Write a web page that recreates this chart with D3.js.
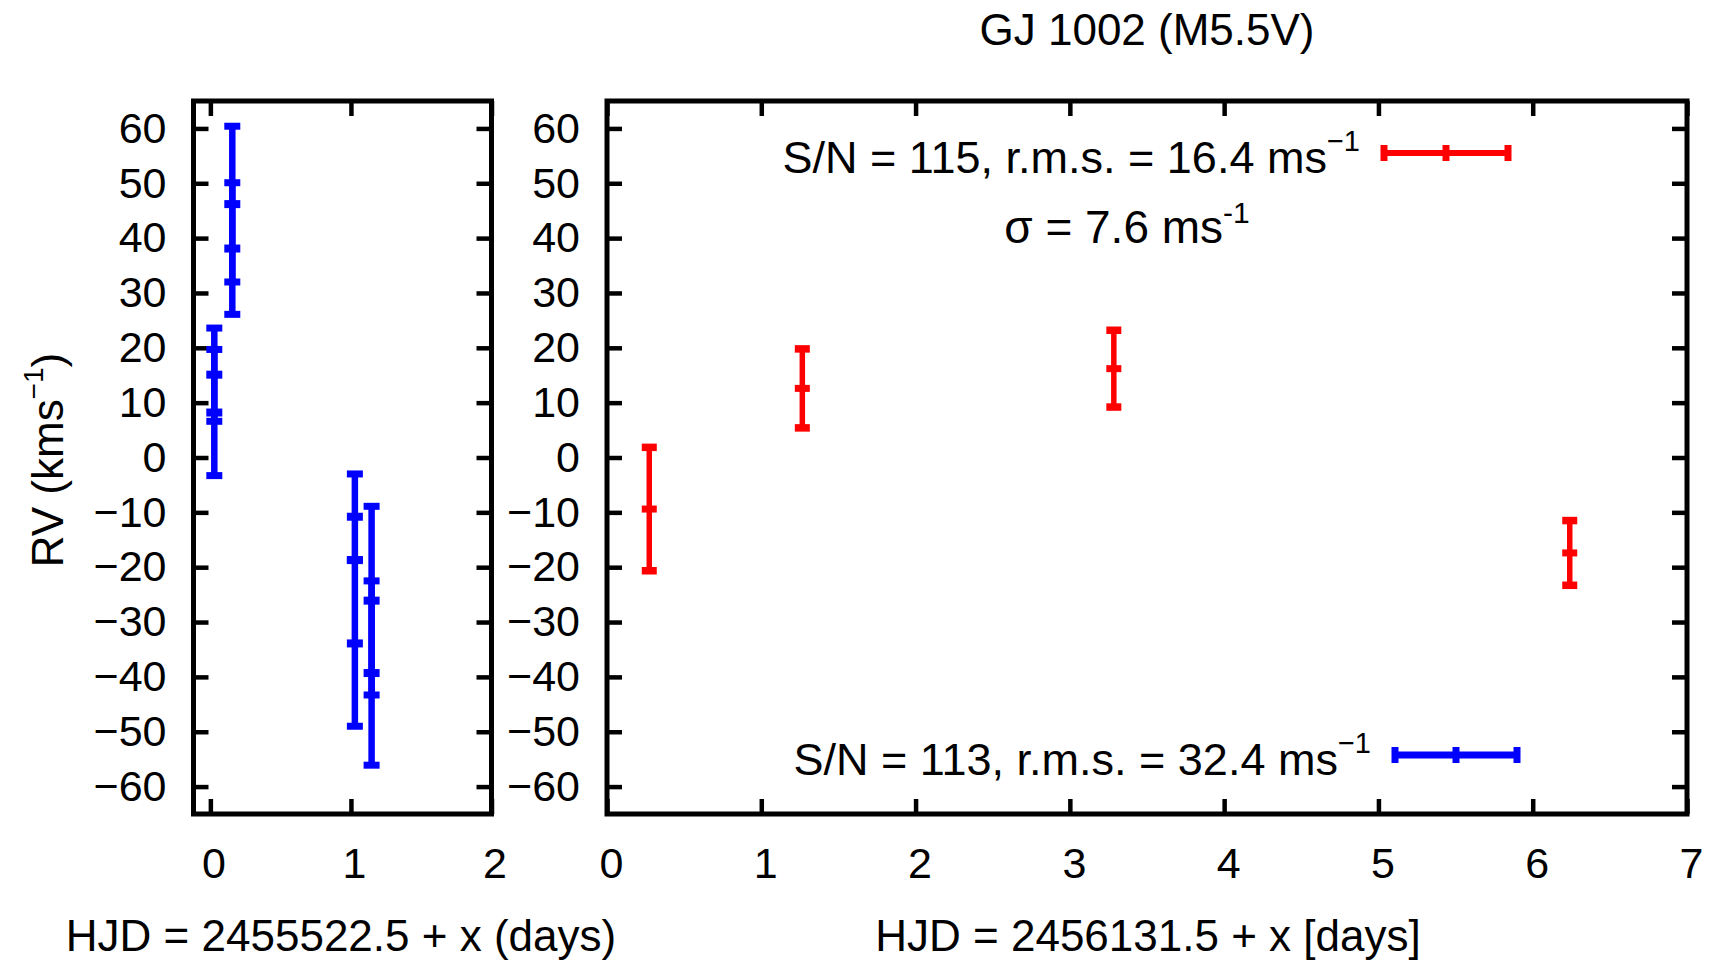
<!DOCTYPE html>
<html>
<head>
<meta charset="utf-8">
<script src="https://cdn.jsdelivr.net/npm/d3@7"></script>
<style>
  html, body { margin: 0; padding: 0; background: #fff; }
  svg { display: block; }
  text { font-family: "Liberation Sans", Arial, Helvetica, sans-serif; fill: #000; }
</style>
</head>
<body>
<svg id="chart" width="1714" height="961"></svg>
<script>
// ---------- data ----------
// Left panel (HJD = 2455522.5 + x), blue, S/N = 113
const blueX   = [0.028, 0.028, 0.156, 0.156, 1.028, 1.028, 1.147, 1.147];
const blueRV  = [15.1, 8.2, 46.2, 38.1, -10.8, -33.9, -26.1, -39.3];
const blueErr = [8.5, 11.5, 14.2, 12.0, 7.8, 15.1, 17.2, 16.8];
// Right panel (HJD = 2456131.5 + x), red, S/N = 115
const redX    = [0.274, 1.266, 3.285, 6.24];
const redRV   = [-9.4, 12.6, 16.2, -17.4];
const redErr  = [11.25, 7.2, 7.0, 5.9];

const yTicks      = [-60, -50, -40, -30, -20, -10, 0, 10, 20, 30, 40, 50, 60];
const xTicksLeft  = [0, 1, 2];
const xTicksRight = [0, 1, 2, 3, 4, 5, 6, 7];

const titleText   = "GJ 1002 (M5.5V)";
const xTitleLeft  = "HJD = 2455522.5 + x (days)";
const xTitleRight = "HJD = 2456131.5 + x [days]";
const redLabel    = "S/N = 115, r.m.s. = 16.4 ms";
const blueLabel   = "S/N = 113, r.m.s. = 32.4 ms";
const sigmaLabel  = "σ = 7.6 ms";

// ---------- layout ----------
const svg = d3.select("#chart");
const plotTop = 101, plotBottom = 814;
const y = d3.scaleLinear().domain([-65, 65]).range([plotBottom, plotTop]);
const xL = d3.scaleLinear().domain([-0.12, 2]).range([193.5, 491.5]);
const xR = d3.scaleLinear().domain([0, 7]).range([607, 1687]);

const RED = "#ff0000", BLUE = "#0000ff";
const tickLen = 15, tickFont = 43, textFont = 44;
const fmt = d => (d < 0 ? "\u2212" + Math.abs(d) : String(d));

function panel(x, xTicks, series, labelShift) {
  const g = svg.append("g");
  const [x0, x1] = x.range();

  const left = g.append("g").attr("transform", `translate(${x0},0)`)
    .call(d3.axisLeft(y).tickValues(yTicks).tickSize(-tickLen).tickPadding(27).tickFormat(fmt));
  const right = g.append("g").attr("transform", `translate(${x1},0)`)
    .call(d3.axisRight(y).tickValues(yTicks).tickSize(-tickLen).tickFormat(""));
  const bot = g.append("g").attr("transform", `translate(0,${plotBottom})`)
    .call(d3.axisBottom(x).tickValues(xTicks).tickSize(-tickLen).tickPadding(33).tickFormat(d3.format("d")));
  const topAx = g.append("g").attr("transform", `translate(0,${plotTop})`)
    .call(d3.axisTop(x).tickValues(xTicks).tickSize(-tickLen).tickFormat(""));

  [left, right, bot, topAx].forEach(a => {
    a.select(".domain").remove();
    a.selectAll(".tick line").attr("stroke", "#000").attr("stroke-width", 4.5);
    a.selectAll(".tick text").attr("font-size", tickFont)
      .attr("font-family", "'Liberation Sans', Arial, Helvetica, sans-serif").attr("fill", "#000");
  });
  bot.selectAll(".tick text").attr("dx", labelShift);

  const pts = series.x.map((d, i) => ({ x: d, v: series.v[i], e: series.e[i] }));
  const eb = g.append("g");
  pts.forEach(p => {
    const cx = x(p.x);
    eb.append("line").attr("x1", cx).attr("x2", cx)
      .attr("y1", y(p.v + p.e)).attr("y2", y(p.v - p.e))
      .attr("stroke", series.color).attr("stroke-width", series.lw);
    [p.v + p.e, p.v - p.e, p.v].forEach((val, k) => {
      eb.append("line")
        .attr("x1", cx - series.cap / 2).attr("x2", cx + series.cap / 2)
        .attr("y1", y(val)).attr("y2", y(val))
        .attr("stroke", series.color).attr("stroke-width", k === 2 ? series.lw + 1.5 : series.capw);
    });
  });

  g.append("rect").attr("x", x0).attr("y", plotTop)
    .attr("width", x1 - x0).attr("height", plotBottom - plotTop)
    .attr("fill", "none").attr("stroke", "#000").attr("stroke-width", 5);
  return g;
}

panel(xL, xTicksLeft, { x: blueX, v: blueRV, e: blueErr, color: BLUE, lw: 6.5, cap: 16, capw: 7 }, 3);
panel(xR, xTicksRight, { x: redX, v: redRV, e: redErr, color: RED, lw: 5.5, cap: 15, capw: 7.5 }, 4);

// ---------- text ----------
svg.append("text").attr("x", 1147).attr("y", 45).attr("text-anchor", "middle")
  .attr("font-size", textFont).text(titleText);

svg.append("text").attr("x", 341).attr("y", 951).attr("text-anchor", "middle")
  .attr("font-size", textFont).text(xTitleLeft);
svg.append("text").attr("x", 1148).attr("y", 951).attr("text-anchor", "middle")
  .attr("font-size", textFont).text(xTitleRight);

const yl = svg.append("text").attr("transform", "translate(63,460) rotate(-90)")
  .attr("text-anchor", "middle").attr("font-size", textFont);
yl.append("tspan").text("RV (kms");
yl.append("tspan").attr("dy", -20).attr("font-size", 28).text("\u22121");
yl.append("tspan").attr("dy", 20).text(")");

function legendEntry(label, sup, ty, color, lw, xa, xb) {
  const t = svg.append("text").attr("x", xa - 24).attr("y", ty).attr("text-anchor", "end")
    .attr("font-size", 45);
  t.append("tspan").text(label);
  t.append("tspan").attr("dy", -22).attr("font-size", 29).text(sup);
  const sy = ty - 20;
  const gg = svg.append("g").attr("stroke", color);
  gg.append("line").attr("x1", xa).attr("x2", xb).attr("y1", sy).attr("y2", sy).attr("stroke-width", lw);
  [xa, (xa + xb) / 2, xb].forEach(px => {
    gg.append("line").attr("x1", px).attr("x2", px).attr("y1", sy - 8).attr("y2", sy + 8).attr("stroke-width", 7);
  });
}
legendEntry(redLabel, "\u22121", 173, RED, 6, 1384, 1508);
legendEntry(blueLabel, "\u22121", 775, BLUE, 7, 1395, 1517);

const st = svg.append("text").attr("x", 1127).attr("y", 243).attr("text-anchor", "middle")
  .attr("font-size", 46);
st.append("tspan").text(sigmaLabel);
st.append("tspan").attr("dy", -20).attr("font-size", 30).text("-1");
</script>
</body>
</html>
